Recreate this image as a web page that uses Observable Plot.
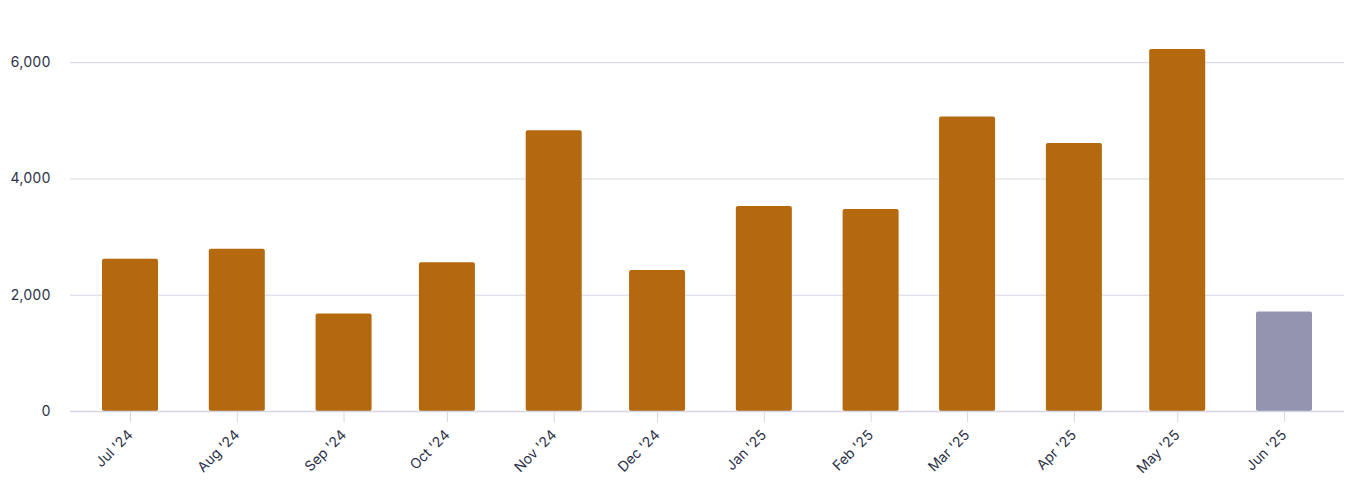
<!DOCTYPE html>
<html>
<head>
<meta charset="utf-8">
<script src="https://cdn.jsdelivr.net/npm/d3@7"></script>
<script src="https://cdn.jsdelivr.net/npm/@observablehq/plot@0.6"></script>
<style>
  html, body { margin: 0; padding: 0; background: #fff; }
  #chart svg { display: block; }
</style>
</head>
<body>
<div id="chart"></div>
<script>
// Months (first day of each month)
const months = ["2024-07-01", "2024-08-01", "2024-09-01", "2024-10-01", "2024-11-01", "2024-12-01",
                "2025-01-01", "2025-02-01", "2025-03-01", "2025-04-01", "2025-05-01", "2025-06-01"];
// Values
const values = [2621, 2793, 1678, 2557, 4830, 2424, 3527, 3475, 5068, 4610, 6227, 1713];
// Last month is still in progress
const status = ["complete", "complete", "complete", "complete", "complete", "complete",
                "complete", "complete", "complete", "complete", "complete", "partial"];
const yTicks = [0, 2000, 4000, 6000];

const data = months.map((m, i) => ({date: new Date(m + "T00:00:00Z"), value: values[i], status: status[i]}));
const dates = data.map(d => d.date);

const gridColor = "#d6d6e4";

const chart = Plot.plot({
  width: 1354,
  height: 492,
  marginLeft: 70,
  marginRight: 10,
  marginTop: 49,
  marginBottom: 81,
  style: {fontFamily: "Inter, 'Noto Sans', sans-serif", fontSize: "14px", color: "#2b2f47", background: "#fff"},
  x: {type: "utc", domain: d3.extent(dates), inset: 60},
  y: {domain: [0, d3.max(values)]},
  color: {domain: ["complete", "partial"], range: ["#b4690e", "#9394b0"]},
  marks: [
    Plot.gridY(yTicks, {stroke: gridColor, strokeOpacity: 1}),
    Plot.axisY(yTicks, {tickSize: 0, tickPadding: 20, tickFormat: d3.format(","), label: null}),
    Plot.rectY(data, {x1: "date", x2: "date", y: "value", fill: "status", insetLeft: -28, insetRight: -28, rx: 2}),
    Plot.ruleY([0], {stroke: gridColor, strokeWidth: 1.5}),
    Plot.axisX(dates, {tickSize: 11, stroke: gridColor, strokeOpacity: 1, tickRotate: -45, tickPadding: 10,
                       tickFormat: d3.utcFormat("%b '%y"), label: null})
  ]
});
document.getElementById("chart").append(chart);
</script>
</body>
</html>
